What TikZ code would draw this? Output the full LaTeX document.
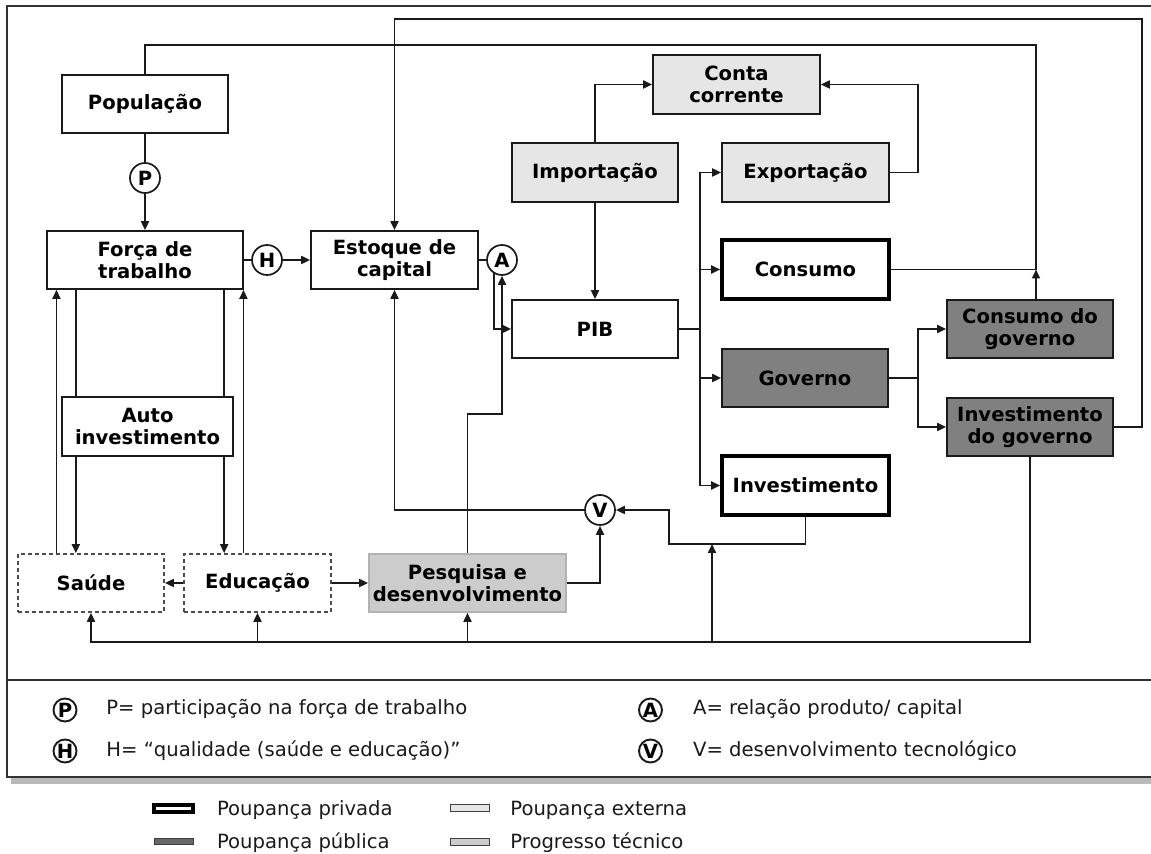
\documentclass[tikz,border=0pt]{standalone}
\usepackage{fontspec}
\setmainfont{DejaVu Sans}
\usetikzlibrary{arrows.meta,calc}
\definecolor{lg}{HTML}{E6E6E6}
\definecolor{mg}{HTML}{CCCCCC}
\definecolor{dg}{HTML}{808080}
\definecolor{lncol}{HTML}{1A1A1A}
\begin{document}
\begin{tikzpicture}[x=0.5pt,y=-0.5pt,
  every node/.style={font=\fontsize{9.8}{11}\selectfont},
  bx/.style={draw=lncol, line width=0.85pt, fill=white, inner sep=0pt, align=center,
    font=\fontsize{9.8}{11}\selectfont\bfseries, minimum width=83pt, minimum height=29pt},
  thk/.style={bx, draw=black, line width=1.8pt, minimum width=83.5pt, minimum height=29.5pt},
  dsh/.style={bx, draw=black!70, dash pattern=on 2pt off 1.5pt},
  circ/.style={circle, draw=lncol, line width=0.85pt, fill=white, inner sep=0pt,
    minimum size=15pt, font=\fontsize{9.8}{11}\selectfont\bfseries},
  lcirc/.style={circ, minimum size=11.5pt, line width=0.95pt},
  wire/.style={draw=lncol, line width=0.9pt},
  arr/.style={wire, -{Triangle[length=4.5pt,width=4pt]}},
  ltxt/.style={anchor=base west, inner sep=0pt, text=lncol},
  sw/.style={inner sep=0pt, minimum width=19.5pt, minimum height=3.5pt, line width=0.7pt, draw=black!75}
]
\useasboundingbox (0,0) rectangle (1151,854);
% frame
\fill[gray!55] (11,777) rectangle (1160,784);
\draw[draw=black!80, line width=0.9pt, fill=white] (7,6) rectangle (1160,777);
\draw[draw=black!80, line width=0.9pt] (7,680) -- (1160,680);

% nodes
\node[bx] (pop) at (145,104) {População};
\node[circ] (P) at (145,178) {P};
\node[bx, minimum width=98pt] (forca) at (145,260) {Força de\\trabalho};
\node[circ] (H) at (267,260) {H};
\node[bx, minimum width=83.5pt] (estoque) at (394.5,260) {Estoque de\\capital};
\node[circ] (A) at (502,260) {A};
\node[bx, fill=lg, minimum height=29.5pt] (imp) at (595,172.5) {Importação};
\node[bx, fill=lg, minimum width=83.5pt, minimum height=29.5pt] (conta) at (736.5,84.5) {Conta\\corrente};
\node[bx, fill=lg, minimum width=83.5pt, minimum height=29.5pt] (exp) at (805.5,172.5) {Exportação};
\node[thk] (cons) at (805.5,269.5) {Consumo};
\node[bx] (pib) at (595,329) {PIB};
\node[bx, fill=dg] (gov) at (805,378) {Governo};
\node[thk] (inv) at (805.5,485.5) {Investimento};
\node[bx, fill=dg] (cgov) at (1030,329) {Consumo do\\governo};
\node[bx, fill=dg] (igov) at (1030,427) {Investimento\\do governo};
\node[dsh, minimum width=73pt] (saude) at (91,583) {Saúde};
\node[dsh, minimum width=73.5pt] (educ) at (257.5,583) {Educação};
\node[bx, fill=mg, draw=black!30, minimum width=98.5pt] (pd) at (467.5,583) {Pesquisa e\\desenvolvimento};
\node[circ] (V) at (600,510) {V};

% helper coordinates
\coordinate (br) at (700,329);
\coordinate (gb) at (917.7,378);
\coordinate (J) at (1036,269.5);
\coordinate (topL) at (1036,45);
\coordinate (rt) at (1142,19);
\coordinate (xr) at (917.7,84.5);
\coordinate (bot) at (0,642);
\coordinate (K) at (712,544);
\coordinate (L) at (668.7,544);
\coordinate (M) at (502,414);

% connectors
\draw[wire] (pop.south) -- (P.north);
\draw[arr] (P.south) -- (forca.north);
\draw[wire] (forca.east) -- (H.west);
\draw[arr] (H.east) -- (estoque.west);
\draw[wire] (estoque.east) -- (A.west);
\draw[arr] (A.-122) |- (pib.west);
\draw[arr] (pd.north) |- (M) -- (A.south);
\draw[arr] (imp.north) |- (conta.west);
\draw[arr] (exp.east) -| (xr) -- (conta.east);
\draw[arr] (imp.south) -- (pib.north);
\draw[wire] (pib.east) -- (br);
\draw[arr] (br) |- (exp.west);
\draw[arr] (br) |- (cons.west);
\draw[arr] (br) |- (gov.west);
\draw[arr] (br) |- (inv.west);
\draw[wire] (gov.east) -- (gb);
\draw[arr] (gb) |- (cgov.west);
\draw[arr] (gb) |- (igov.west);
\draw[arr] (J |- cgov.north) -- (J);
\draw[wire] (cons.east) -- (J) -- (topL) -| (pop.north);
\draw[arr] (igov.east) -| (rt) -| (estoque.north);
\draw[arr] (igov.south) -- (igov.south |- bot) -| (saude.south);
\draw[arr] (educ.south |- bot) -- (educ.south);
\draw[arr] (pd.south |- bot) -- (pd.south);
\draw[arr] (K |- bot) -- (K);
\draw[arr] (inv.south) |- (L) |- (V.east);
\draw[arr] (V.west) -| (estoque.south);
\draw[arr] (pd.east) -| (V.south);
\draw[arr] (educ.east) -- (pd.west);
\draw[arr] (educ.west) -- (saude.east);

\coordinate (f1) at ([xshift=5.15pt]forca.south west);
\coordinate (f2) at ([xshift=14.85pt]forca.south west);
\coordinate (f3) at ([xshift=-9.85pt]forca.south east);
\coordinate (f4) at ([xshift=-0.2pt]forca.south east);
\draw[arr] (f1 |- saude.north) -- (f1);
\draw[arr] (f2) -- (f2 |- saude.north);
\draw[arr] (f3) -- (f3 |- educ.north);
\draw[arr] (f4 |- educ.north) -- (f4);
\node[bx, minimum width=85.5pt, minimum height=29.5pt] (auto) at (147.5,426.5) {Auto\\investimento};

% legend
\node[lcirc] (lP) at (65,710) {P};
\node[ltxt] (tP) at (106,715) {P= participação na força de trabalho};
\node[lcirc] (lH) at (65,751) {H};
\node[ltxt] (tH) at (106,756) {H= “qualidade (saúde e educação)”};
\node[lcirc] (lA) at (650.5,710) {A};
\node[ltxt] (tA) at (692.7,715) {A= relação produto/ capital};
\node[lcirc] (lV) at (650.5,751) {V};
\node[ltxt] (tV) at (692.7,756) {V= desenvolvimento tecnológico};

\node[sw, draw=black, line width=2pt, fill=white, minimum width=19.6pt] (s1) at (173.3,808.5) {};
\node[ltxt] (t1) at (216.7,815) {Poupança privada};
\node[sw, fill=black!60, minimum height=3pt] (s2) at (174,841.5) {};
\node[ltxt] (t2) at (216.7,848) {Poupança pública};
\node[sw, fill=lg] (s3) at (470,808) {};
\node[ltxt] (t3) at (510,815) {Poupança externa};
\node[sw, fill=mg] (s4) at (470,842) {};
\node[ltxt] (t4) at (510,848) {Progresso técnico};
\end{tikzpicture}
\end{document}
